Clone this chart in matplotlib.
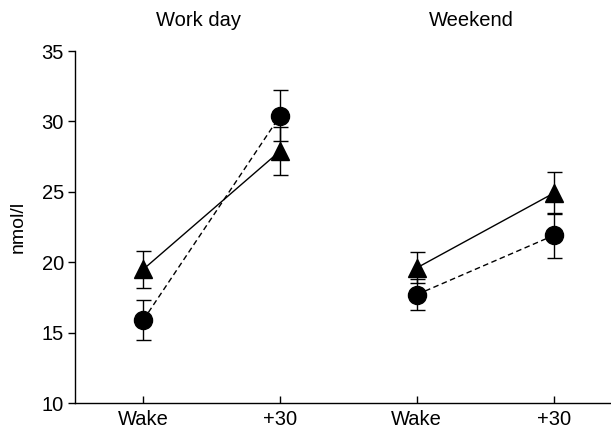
import matplotlib
matplotlib.use("Agg")
import matplotlib.pyplot as plt

plt.rcParams['font.family'] = ['Liberation Sans', 'DejaVu Sans']

# Data
tick_labels = ["Wake", "+30", "Wake", "+30"]
groups = ["Work day", "Weekend"]
tri_mean = [[19.5, 27.9], [19.6, 24.9]]
tri_err = [[1.3, 1.7], [1.1, 1.5]]
circ_mean = [[15.9, 30.4], [17.7, 21.9]]
circ_err = [[1.4, 1.8], [1.1, 1.6]]

fig = plt.figure(figsize=(6.11, 4.29), dpi=100)
ax = fig.add_axes([0.1227, 0.0606, 0.8773, 0.8204])

for g in range(2):
    xs = [2 * g, 2 * g + 1]
    ax.errorbar(xs, tri_mean[g], yerr=tri_err[g], fmt='none', ecolor='black',
                elinewidth=1.0, capsize=5.4, capthick=1.0, zorder=2)
    ax.errorbar(xs, circ_mean[g], yerr=circ_err[g], fmt='none', ecolor='black',
                elinewidth=1.0, capsize=5.4, capthick=1.0, zorder=2)
    ax.plot(xs, tri_mean[g], color='black', lw=1.0, ls='-', zorder=3)
    ax.plot(xs, circ_mean[g], color='black', lw=1.0, ls=(0, (4, 2.5)), zorder=3)
    ax.plot(xs, tri_mean[g], ls='none', marker='^', ms=13, color='black', zorder=4)
    ax.plot(xs, circ_mean[g], ls='none', marker='o', ms=13, color='black', zorder=4)
    ax.text(2 * g + 0.4, 37.2, groups[g], ha='center', va='center',
            fontsize=14.5, clip_on=False)

ax.set_xlim(-0.5, 3.42)
ax.set_ylim(10, 35)
ax.set_xticks(range(4))
ax.set_xticklabels(tick_labels)
ax.set_yticks([10, 15, 20, 25, 30, 35])
ax.set_ylabel("nmol/l", fontsize=14, labelpad=11)
ax.spines['top'].set_visible(False)
ax.spines['right'].set_visible(False)
for s in ['left', 'bottom']:
    ax.spines[s].set_linewidth(1.0)
ax.tick_params(axis='y', direction='out', length=5, width=1.0, labelsize=14.5, pad=3)
ax.tick_params(axis='x', direction='in', length=5, width=1.0, labelsize=14.5, pad=5)

fig.savefig("out.png", dpi=100)
